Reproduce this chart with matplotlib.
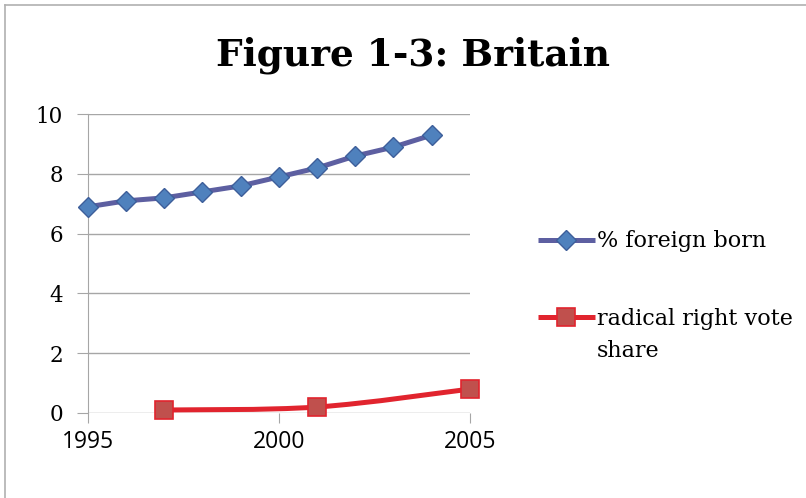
import numpy as np
import matplotlib.pyplot as plt
from matplotlib.path import Path
from matplotlib.patches import PathPatch
from matplotlib.lines import Line2D
from matplotlib.transforms import ScaledTranslation

# --- data ---
years_fb = [1995, 1996, 1997, 1998, 1999, 2000, 2001, 2002, 2003, 2004]
foreign_born = [6.9, 7.1, 7.2, 7.4, 7.6, 7.9, 8.2, 8.6, 8.9, 9.3]

years_rr = [1997, 2001, 2005]
radical_right = [0.1, 0.2, 0.8]

x_ticks = [1995, 2000, 2005]
y_ticks = [0, 2, 4, 6, 8, 10]

series_labels = ["% foreign born", "radical right vote\nshare"]

blue_line = "#5D5FA1"
blue_fill = "#4F81BD"
blue_edge = "#3D5E9A"
red_line = "#E1242E"
red_fill = "#C0504D"
grey = "#A6A6A6"

serif = "DejaVu Serif"
sans = "Open Sans"


def smooth_path(xs, ys):
    # Excel-style smoothed line: Catmull-Rom turned into cubic Bezier pieces
    pts = np.column_stack([xs, ys]).astype(float)
    verts = [pts[0]]
    codes = [Path.MOVETO]
    n = len(pts)
    for i in range(n - 1):
        p0 = pts[max(i - 1, 0)]
        p1 = pts[i]
        p2 = pts[i + 1]
        p3 = pts[min(i + 2, n - 1)]
        verts += [p1 + (p2 - p0) / 6.0, p2 - (p3 - p1) / 6.0, p2]
        codes += [Path.CURVE4] * 3
    return Path(verts, codes)


fig = plt.figure(figsize=(8.06, 4.98), dpi=100)
ax = fig.add_axes([0.109, 0.1707, 0.474, 0.600])

# outer chart border (only left and top edges fall inside the picture)
fig.add_artist(Line2D([0.0068, 0.0068], [0, 0.99], color="#B0B0B0", lw=1.2))
fig.add_artist(Line2D([0.0068, 1.0], [0.99, 0.99], color="#B0B0B0", lw=1.2))

blue_style = dict(color=blue_line, lw=3.6, marker="D", markersize=10.5,
                  markerfacecolor=blue_fill, markeredgecolor=blue_edge,
                  markeredgewidth=1.0)
red_style = dict(color=red_line, lw=3.6, marker="s", markersize=13,
                 markerfacecolor=red_fill, markeredgecolor=red_line,
                 markeredgewidth=1.2)


def marker_only(style):
    return {k: v for k, v in style.items() if k not in ("color", "lw")}


ax.plot(years_fb, foreign_born, zorder=3, clip_on=False, **blue_style)

curve = PathPatch(smooth_path(years_rr, radical_right), facecolor="none",
                  edgecolor=red_line, lw=3.6, zorder=3, capstyle="round",
                  clip_on=False)
ax.add_patch(curve)
ax.plot(years_rr, radical_right, linestyle="none", zorder=4, clip_on=False,
        **marker_only(red_style))

ax.set_xlim(1995, 2005)
ax.set_ylim(0, 10)
ax.set_xticks(x_ticks)
ax.set_yticks(y_ticks)
ax.set_xticklabels([str(v) for v in x_ticks], fontsize=16.5, family=sans)
ax.set_yticklabels([str(v) for v in y_ticks], fontsize=15.5, family=serif)

ax.grid(axis="y", color=grey, lw=1.0)
ax.set_axisbelow(True)
for side in ["top", "right", "bottom"]:
    ax.spines[side].set_visible(False)
ax.spines["left"].set_color(grey)
ax.tick_params(axis="y", length=8, color=grey, pad=10)
ax.tick_params(axis="x", length=7, color=grey, pad=5)

fig.text(0.512, 0.89, "Figure 1-3: Britain", ha="center", va="center",
         fontsize=27, fontweight="bold", family=serif)

# legend drawn by hand so the marker lines up with the first text line
text_shift = fig.transFigure + ScaledTranslation(0, 7 / 72, fig.dpi_scale_trans)
legend_rows = [(0.518, blue_style), (0.363, red_style)]
for (y, style), label in zip(legend_rows, series_labels):
    fig.add_artist(Line2D([0.667, 0.738], [y, y], solid_capstyle="butt",
                          color=style["color"], lw=style["lw"]))
    fig.add_artist(Line2D([0.7025], [y], linestyle="none",
                          **marker_only(style)))
    fig.text(0.741, y, label, ha="left", va="top", family=serif,
             fontsize=16, linespacing=1.6, transform=text_shift)

fig.savefig("out.png", dpi=100)
